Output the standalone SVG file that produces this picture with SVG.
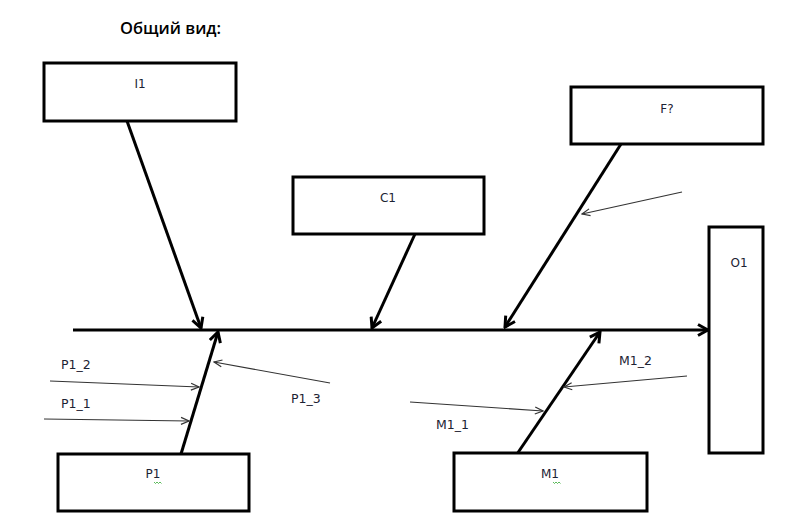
<svg xmlns="http://www.w3.org/2000/svg" width="786" height="527" viewBox="0 0 786 527">
<style>
.box{fill:#fff;stroke:#000;stroke-width:3}
.lbl{font-family:"DejaVu Sans",Verdana,sans-serif;font-size:12px;fill:#1c2233;text-anchor:middle}
.sub{font-family:"DejaVu Sans",Verdana,sans-serif;font-size:12.5px;fill:#1c2233}
.bone{stroke:#000;stroke-width:3;fill:none;marker-end:url(#thick)}
.rib{stroke:#333;stroke-width:1.2;fill:none;marker-end:url(#thin)}
.sq{stroke:#3a3;stroke-width:0.8;fill:none}
</style>
<defs>
<marker id="thick" markerUnits="userSpaceOnUse" viewBox="0 0 14 14" markerWidth="14" markerHeight="14" refX="12" refY="7" orient="auto">
<path d="M2,1.5 L12,7 L2,12.5" fill="none" stroke="#000" stroke-width="3"/>
</marker>
<marker id="thin" markerUnits="userSpaceOnUse" viewBox="0 0 10 10" markerWidth="10" markerHeight="10" refX="9" refY="5" orient="auto">
<path d="M1,1.5 L9,5 L1,8.5" fill="none" stroke="#333" stroke-width="1.2"/>
</marker>
</defs>
<rect width="786" height="527" fill="#fff"/>
<text x="120" y="34" font-family="'Open Sans','Liberation Sans',sans-serif" font-size="16.5" font-weight="600" fill="#000">Общий вид:</text>

<g id="connectors">
<line class="bone" x1="73" y1="330" x2="708" y2="330"/>
<line class="bone" x1="127" y1="121" x2="201" y2="328"/>
<line class="bone" x1="415" y1="234" x2="372" y2="328"/>
<line class="bone" x1="621" y1="144" x2="505" y2="327"/>
<line class="bone" x1="181" y1="454" x2="218" y2="332"/>
<line class="bone" x1="517" y1="454" x2="600" y2="332"/>
<line class="rib" x1="50" y1="381" x2="199" y2="387"/>
<line class="rib" x1="44" y1="419" x2="189" y2="421"/>
<line class="rib" x1="330" y1="383" x2="214" y2="362"/>
<line class="rib" x1="687" y1="376" x2="564" y2="387"/>
<line class="rib" x1="410" y1="402" x2="543" y2="411"/>
<line class="rib" x1="682" y1="192" x2="582" y2="214"/>
</g>

<g id="I1"><rect class="box" x="44" y="63" width="192" height="58"/><text class="lbl" x="140" y="88">I1</text></g>
<g id="C1"><rect class="box" x="293" y="177" width="191" height="57"/><text class="lbl" x="388" y="202">C1</text></g>
<g id="F"><rect class="box" x="571" y="87" width="192" height="57"/><text class="lbl" x="667" y="113">F?</text></g>
<g id="O1"><rect class="box" x="709" y="227" width="54" height="226"/><text class="lbl" x="739" y="267">O1</text></g>
<g id="P1"><rect class="box" x="58" y="454" width="191" height="57"/><text class="lbl" x="153" y="478">P1</text><path class="sq" d="M154,482 l1.5,1.5 l1.5,-1.5 l1.5,1.5 l1.5,-1.5 l1.5,1.5"/></g>
<g id="M1"><rect class="box" x="454" y="453" width="193" height="58"/><text class="lbl" x="550" y="478">M1</text><path class="sq" d="M553,482 l1.5,1.5 l1.5,-1.5 l1.5,1.5 l1.5,-1.5 l1.5,1.5"/></g>

<g id="labels">
<text class="sub" x="61" y="369">P1_2</text>
<text class="sub" x="61" y="408">P1_1</text>
<text class="sub" x="291" y="403">P1_3</text>
<text class="sub" x="619" y="365">M1_2</text>
<text class="sub" x="436" y="429">M1_1</text>
</g>
</svg>
